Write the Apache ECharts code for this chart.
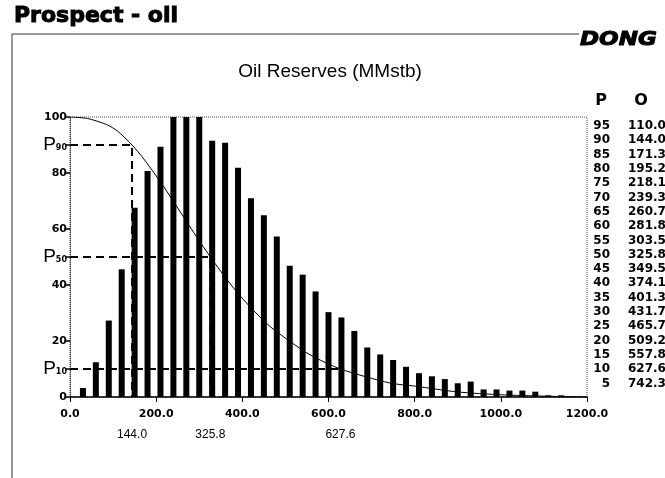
<!DOCTYPE html>
<html><head><meta charset="utf-8">
<script src="https://cdn.jsdelivr.net/npm/echarts@6/dist/echarts.min.js"></script>
<style>html,body{margin:0;padding:0;background:#fff}#c{width:665px;height:478px}</style>
</head><body><div id="c"></div>
<script>
// ---- data ----
const binCenters = [30,60,90,120,150,180,210,240,270,300,330,360,390,420,450,480,510,540,570,600,630,660,690,720,750,780,810,840,870,900,930,960,990,1020,1050,1080,1110,1140];
const binHeights = [3.2,12.4,27.3,45.6,67.6,80.7,89.4,100,100,100,91.5,90.8,81.9,71.0,64.9,57.3,46.9,43.7,37.7,30.3,28.4,23.6,17.7,15.2,13.2,10.8,8.5,7.4,6.4,4.9,5.5,2.7,2.7,2.3,2.3,1.9,0.6,0.6];
const tableP = [95,90,85,80,75,70,65,60,55,50,45,40,35,30,25,20,15,10,5];
const tableO = [110.0,144.0,171.3,195.2,218.1,239.3,260.7,281.8,303.5,325.8,349.5,374.1,401.3,431.7,465.7,509.2,557.8,627.6,742.3];
const curveHeadX = [0,40,85];
const curveHeadY = [100,99.5,97.3];
const curveTailX = [800,900,1000,1100,1200];
const curveTailY = [3.9,1.8,0.8,0.3,0];
const pLevels = [90,50,10];
const pValues = [144.0,325.8,627.6];
const yTickValues = [0,10,20,40,50,60,80,90,100];
const chartTitle = 'Oil Reserves (MMstb)';
const pageTitle = 'Prospect - oil';
const logoText = 'DONG';
const tableHeaders = ['P','O'];

// ---- build ----
const bars = binCenters.map((x,i)=>[x,binHeights[i]]);
const curve = [];
curveHeadX.forEach((x,i)=>curve.push([x,curveHeadY[i]]));
tableP.forEach((p,i)=>curve.push([tableO[i],p]));
curveTailX.forEach((x,i)=>curve.push([x,curveTailY[i]]));

const dashSeries = pLevels.map((p,i)=>({
  type:'line', xAxisIndex:0, yAxisIndex:0, symbol:'none', silent:true, z:3,
  data:[[0,p],[pValues[i],p],[pValues[i],0]],
  lineStyle:{color:'#000',width:2,type:[8,5]}
}));

const heavy = '"DejaVu Sans", sans-serif';
const tableGraphics = [];
tableGraphics.push({type:'text',x:601,y:101,style:{text:tableHeaders[0],font:'bold 16px '+heavy,fill:'#000',textAlign:'center',textVerticalAlign:'middle'}});
tableGraphics.push({type:'text',x:641,y:101,style:{text:tableHeaders[1],font:'bold 16px '+heavy,fill:'#000',textAlign:'center',textVerticalAlign:'middle'}});
tableP.forEach((p,i)=>{
  const y = 126 + i*14.3;
  tableGraphics.push({type:'text',x:610,y:y,style:{text:String(p),font:'bold 12px '+heavy,fill:'#000',textAlign:'right',textVerticalAlign:'middle'}});
  tableGraphics.push({type:'text',x:628,y:y,style:{text:tableO[i].toFixed(1),font:'bold 12px '+heavy,fill:'#000',textAlign:'left',textVerticalAlign:'middle'}});
});

const chart = echarts.init(document.getElementById('c'),null,{renderer:'canvas'});
chart.setOption({
  animation:false,
  backgroundColor:'#fff',
  grid:{left:70,right:78,top:117,bottom:81,show:true,borderColor:'#555',borderWidth:1,borderType:'dotted',backgroundColor:'transparent'},
  xAxis:[{
    type:'value',min:0,max:1200,interval:200,position:'bottom',
    axisLine:{show:true,onZero:false,lineStyle:{color:'#000',width:1.5}},
    axisTick:{show:true,length:5,lineStyle:{color:'#000',width:1}},
    splitLine:{show:false},
    axisLabel:{margin:12,color:'#000',fontFamily:heavy,fontWeight:'bold',fontSize:11,formatter:v=>v.toFixed(1)}
  },{
    type:'value',min:0,max:1200,position:'bottom',offset:20,
    axisLine:{show:false},axisTick:{show:false},splitLine:{show:false},
    axisLabel:{customValues:pValues,margin:12,color:'#000',fontFamily:'"Liberation Sans", sans-serif',fontSize:12,formatter:v=>v.toFixed(1)}
  }],
  yAxis:[{
    type:'value',min:0,max:100,interval:10,
    axisLine:{show:true,lineStyle:{color:'#444',width:1,type:'dotted'}},
    axisTick:{show:true,length:5,inside:false,customValues:yTickValues,lineStyle:{color:'#000',width:1.5}},
    splitLine:{show:false},
    axisLabel:{customValues:yTickValues,margin:3,color:'#000',fontFamily:heavy,fontWeight:'bold',fontSize:11,
      formatter:v=>{const k=pLevels.indexOf(v); return k>=0?'{p|P}{s|'+v+'}':String(v);},
      rich:{p:{fontFamily:'"Liberation Sans", sans-serif',fontSize:19,color:'#000',fontWeight:'normal'},
            s:{fontFamily:heavy,fontSize:8,fontWeight:'bold',color:'#000',padding:[6,0,0,0]}}}
  }],
  series:[
    {type:'bar',data:bars,barWidth:6,itemStyle:{color:'#000'},z:2,silent:true},
    {type:'line',data:curve,symbol:'none',smooth:0.25,lineStyle:{color:'#000',width:1},z:4,silent:true},
    ...dashSeries
  ],
  graphic:[
    {type:'text',x:14,y:16,style:{text:pageTitle,font:'bold 22px '+heavy,fill:'#000',stroke:'#000',lineWidth:1,textVerticalAlign:'middle'}},
    {type:'line',shape:{x1:12,y1:34,x2:579,y2:34},style:{stroke:'#333',lineWidth:1}},
    {type:'line',shape:{x1:12,y1:34,x2:12,y2:478},style:{stroke:'#333',lineWidth:1}},
    {type:'text',x:580,y:40,scaleX:1.15,style:{text:logoText,font:'italic bold 20px '+heavy,fill:'#000',stroke:'#000',lineWidth:1,textVerticalAlign:'middle'}},
    {type:'text',x:330,y:72,style:{text:chartTitle,font:'19px "Liberation Sans", sans-serif',fill:'#000',textAlign:'center',textVerticalAlign:'middle'}},
    ...tableGraphics
  ]
});
</script></body></html>
